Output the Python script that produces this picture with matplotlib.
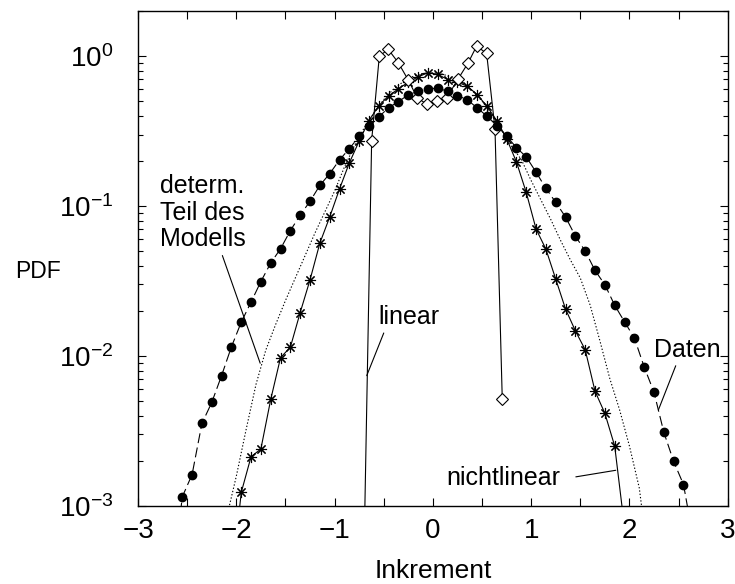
import numpy as np
import matplotlib
matplotlib.use('Agg')
import matplotlib.pyplot as plt
from matplotlib.ticker import LogLocator, MultipleLocator, NullFormatter, FixedLocator

plt.rcParams['font.family'] = ['Liberation Sans', 'DejaVu Sans']
plt.rcParams['mathtext.fontset'] = 'custom'
plt.rcParams['mathtext.rm'] = 'Liberation Sans'
plt.rcParams['mathtext.it'] = 'Liberation Sans:italic'
plt.rcParams['mathtext.default'] = 'regular'

# Daten: gemessene PDF der Inkremente
x_daten = [-2.65, -2.55, -2.45, -2.35, -2.25, -2.15, -2.05, -1.95, -1.85, -1.75,
           -1.65, -1.55, -1.45, -1.35, -1.25, -1.15, -1.05, -0.95, -0.85, -0.75,
           -0.65, -0.55, -0.45, -0.35, -0.25, -0.15, -0.05, 0.05, 0.15, 0.25,
           0.35, 0.45, 0.55, 0.65, 0.75, 0.85, 0.95, 1.05, 1.15, 1.25,
           1.35, 1.45, 1.55, 1.65, 1.75, 1.85, 1.95, 2.05, 2.15, 2.25,
           2.35, 2.45, 2.55, 2.65]
pdf_daten = [3.0e-4, 1.15e-3, 1.62e-3, 3.55e-3, 4.9e-3, 7.4e-3, 0.0115, 0.0168, 0.0229, 0.0314,
             0.0417, 0.0519, 0.0686, 0.0871, 0.1076, 0.1374, 0.1644, 0.2032, 0.2415, 0.2911,
             0.3436, 0.3936, 0.4529, 0.4977, 0.5521, 0.5834, 0.6053, 0.6109, 0.5834, 0.5458,
             0.5117, 0.4519, 0.3981, 0.3444, 0.2924, 0.2455, 0.2128, 0.1683, 0.1312, 0.1059,
             0.0845, 0.0631, 0.0501, 0.0372, 0.0299, 0.0218, 0.0169, 0.0132, 8.45e-3, 5.73e-3,
             3.10e-3, 1.98e-3, 1.39e-3, 6.0e-4]

# nichtlineares Modell
x_nl = [-2.05, -1.95, -1.85, -1.75, -1.65, -1.55, -1.45, -1.35, -1.25, -1.15,
        -1.05, -0.95, -0.85, -0.75, -0.65, -0.55, -0.45, -0.35, -0.25, -0.15,
        -0.05, 0.05, 0.15, 0.25, 0.35, 0.45, 0.55, 0.65, 0.75, 0.85,
        0.95, 1.05, 1.15, 1.25, 1.35, 1.45, 1.55, 1.65, 1.75, 1.85, 1.95]
pdf_nl = [3.0e-4, 1.23e-3, 2.13e-3, 2.40e-3, 5.13e-3, 9.75e-3, 0.01146, 0.0195, 0.0322, 0.0566,
          0.0845, 0.130, 0.194, 0.2716, 0.3715, 0.4677, 0.5433, 0.6053, 0.6699, 0.7278,
          0.7745, 0.7551, 0.6982, 0.6699, 0.631, 0.5546, 0.4634, 0.3715, 0.2818, 0.1972,
          0.1233, 0.0703, 0.0516, 0.0326, 0.02056, 0.01472, 0.0110, 5.82e-3, 4.15e-3, 2.51e-3, 7.2e-4]

# lineares Modell
x_lin = [-0.72, -0.623, -0.545, -0.454, -0.352, -0.25, -0.159, -0.063, 0.039, 0.14,
         0.258, 0.36, 0.445, 0.547, 0.632, 0.706]
pdf_lin = [1.0e-4, 0.2735, 1.0, 1.11, 0.904, 0.692, 0.527, 0.479, 0.501, 0.527,
           0.706, 0.904, 1.167, 1.042, 0.327, 5.16e-3]

# deterministischer Teil des Modells
x_det = [-2.1, -2.0, -1.9, -1.8, -1.7, -1.6, -1.5, -1.4, -1.3, -1.2,
         -1.1, -1.0, -0.9, -0.8, -0.7, -0.6, -0.5, -0.4, -0.3, -0.2,
         -0.1, 0.0, 0.1, 0.2, 0.3, 0.4, 0.5, 0.6, 0.7, 0.8,
         0.9, 1.0, 1.1, 1.2, 1.3, 1.4, 1.5, 1.6, 1.7, 1.8,
         1.9, 2.0, 2.1, 2.2]
pdf_det = [8.3e-4, 1.58e-3, 3.24e-3, 6.46e-3, 0.01096, 0.01622, 0.02344, 0.03311, 0.04677, 0.06607,
           0.0912, 0.1259, 0.182, 0.2512, 0.3311, 0.4169, 0.5129, 0.6026, 0.6761, 0.7328,
           0.7674, 0.7762, 0.7586, 0.7161, 0.6607, 0.5888, 0.5012, 0.4074, 0.3236, 0.2512,
           0.2042, 0.1479, 0.1096, 0.08128, 0.05888, 0.04365, 0.03311, 0.02188, 0.01259, 7.08e-3,
           4.37e-3, 2.51e-3, 1.32e-3, 4.0e-4]

fig = plt.figure(figsize=(7.35, 5.84), dpi=100)
ax = fig.add_axes([0.1878, 0.1336, 0.8023, 0.8476])

ax.plot(x_det, pdf_det, color='black', lw=0.8, linestyle=(0, (1.2, 1.8)))
ax.plot(x_nl, pdf_nl, color='black', lw=0.8, marker=(8, 2, 0), ms=8, mew=0.8)
ax.plot(x_lin, pdf_lin, color='black', lw=0.8, marker='D', ms=6, mew=0.8, mfc='white')
ax.plot(x_daten, pdf_daten, color='black', lw=0.8, dashes=(9, 4), marker='o', ms=6)

ax.set_yscale('log')
ax.set_xlim(-3, 3)
ax.set_ylim(1e-3, 2)

ax.xaxis.set_major_locator(FixedLocator([-3, -2, -1, 0, 1, 2, 3]))
ax.xaxis.set_minor_locator(MultipleLocator(0.5))
ax.yaxis.set_major_locator(LogLocator(base=10, numticks=10))
ax.yaxis.set_minor_locator(LogLocator(base=10, subs=np.arange(2, 10), numticks=10))
ax.yaxis.set_minor_formatter(NullFormatter())

ax.tick_params(which='both', direction='in', top=True, right=True, width=0.8)
ax.tick_params(which='major', length=6)
ax.tick_params(which='minor', length=3.5)
ax.tick_params(axis='x', which='minor', length=6)
ax.tick_params(axis='x', labelsize=20, pad=9)
ax.tick_params(axis='y', labelsize=20, pad=18)
for s in ax.spines.values():
    s.set_linewidth(1.0)

ax.set_xlabel('Inkrement', fontsize=19)
ax.xaxis.set_label_coords(0.5, -0.1455)
ax.xaxis.label.set_va('baseline')
ax.set_ylabel('PDF', fontsize=16.5, rotation=0, ha='left', va='center')
ax.yaxis.set_label_coords(-0.2086, 0.4747)

line = dict(arrowstyle='-', lw=0.8, color='black', shrinkB=0)
ax.annotate('determ.\nTeil des\nModells', xy=(-1.757, 8.95e-3), xytext=(-2.776, 0.0538),
            fontsize=18, ha='left', va='baseline', linespacing=1.14,
            arrowprops=dict(line, relpos=(0.71, 0), shrinkA=1))
ax.annotate('linear', xy=(-0.673, 7.4e-3), xytext=(-0.558, 0.01637),
            fontsize=18, ha='left', va='baseline',
            arrowprops=dict(line, relpos=(0.12, 0), shrinkA=1))
ax.annotate('Daten', xy=(2.294, 4.36e-3), xytext=(2.25, 9.9e-3),
            fontsize=18, ha='left', va='baseline',
            arrowprops=dict(line, relpos=(0.35, 0), shrinkA=1))
ax.annotate('nichtlinear', xy=(1.861, 1.73e-3), xytext=(0.141, 1.377e-3),
            fontsize=18, ha='left', va='baseline',
            arrowprops=dict(line, relpos=(1, 0.45), shrinkA=9))

fig.savefig('out.png', dpi=100)
